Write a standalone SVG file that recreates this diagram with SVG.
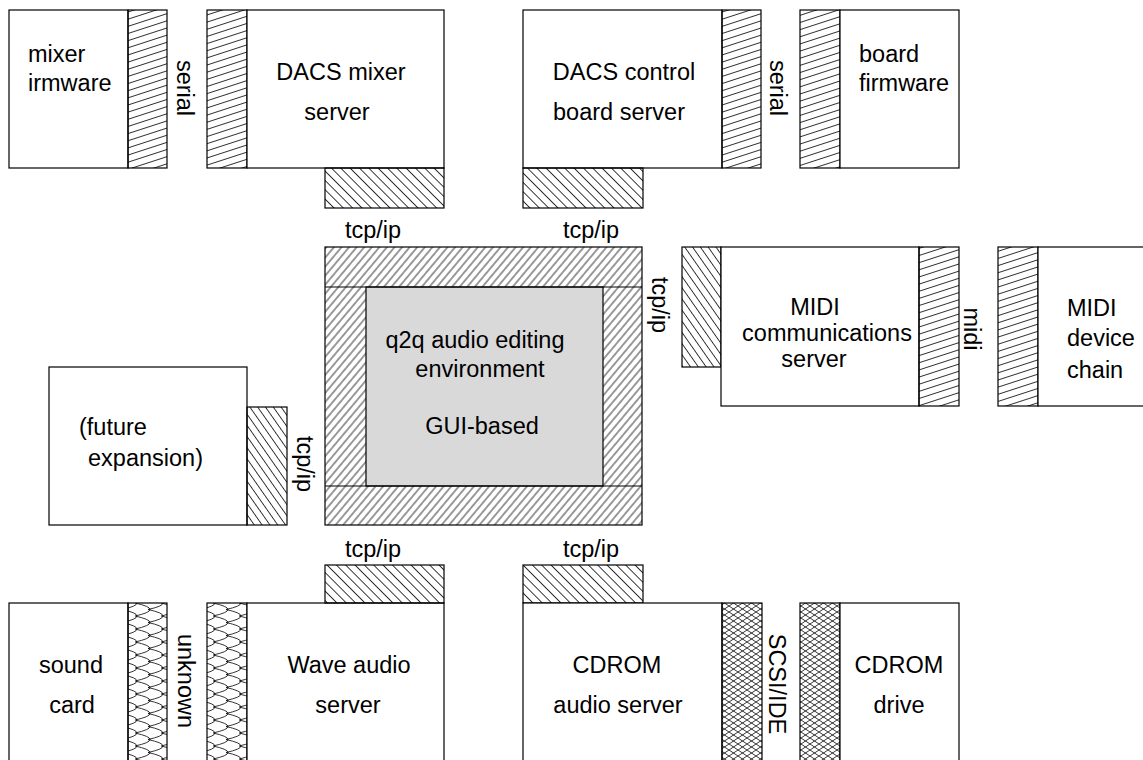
<svg xmlns="http://www.w3.org/2000/svg" width="1143" height="760" viewBox="0 0 1143 760">
<style>
.box{fill:#fff;stroke:#000;stroke-width:1.2}
.hl{stroke:#000;stroke-width:0.8;fill:none}
.t{font-family:"Liberation Sans",Arial,sans-serif;font-size:23.5px;fill:#000}
.m{text-anchor:middle}
</style>
<defs>
<pattern id="serialHatch" patternUnits="userSpaceOnUse" width="12" height="6.8" patternTransform="rotate(-18)"><line class="hl" x1="-1" y1="3.4" x2="13" y2="3.4"/></pattern>
<pattern id="coreHatch" patternUnits="userSpaceOnUse" width="12" height="5.8" patternTransform="rotate(-50)"><line class="hl" x1="-1" y1="2.9" x2="13" y2="2.9"/></pattern>
<pattern id="tcpHatch" patternUnits="userSpaceOnUse" width="12" height="6.6" patternTransform="rotate(45)"><line class="hl" x1="-1" y1="3.3" x2="13" y2="3.3"/></pattern>
<pattern id="tcpHatchV" patternUnits="userSpaceOnUse" width="12" height="6.4" patternTransform="rotate(55)"><line class="hl" x1="-1" y1="3.2" x2="13" y2="3.2"/></pattern>
<pattern id="crossHatch" patternUnits="userSpaceOnUse" width="9" height="6"><path class="hl" d="M0,0 L9,6 M9,0 L0,6"/></pattern>
<pattern id="scaleHatch" patternUnits="userSpaceOnUse" width="26" height="13" x="135" y="603"><path class="hl" d="M0,0 Q30,6.5 0,13 M13,-6.5 Q43,0 13,6.5 M13,6.5 Q43,13 13,19.5 M-13,-6.5 Q17,0 -13,6.5 M-13,6.5 Q17,13 -13,19.5 M-26,0 Q4,6.5 -26,13"/></pattern>
</defs>

<g id="connectors">
<text class="t" transform="translate(177,88) rotate(90)" text-anchor="middle">serial</text>
<text class="t" transform="translate(770,88) rotate(90)" text-anchor="middle">serial</text>
<text class="t m" x="373" y="238">tcp/ip</text>
<text class="t m" x="591" y="238">tcp/ip</text>
<text class="t" transform="translate(652,305) rotate(90)" text-anchor="middle">tcp/ip</text>
<text class="t" transform="translate(964,329) rotate(90)" text-anchor="middle">midi</text>
<text class="t" transform="translate(297,464) rotate(90)" text-anchor="middle">tcp/ip</text>
<text class="t m" x="373" y="557">tcp/ip</text>
<text class="t m" x="591" y="557">tcp/ip</text>
<text class="t" transform="translate(178,681) rotate(90)" text-anchor="middle">unknown</text>
<text class="t" transform="translate(769,684) rotate(90)" text-anchor="middle">SCSI/IDE</text>
</g>

<g id="mixer-firmware">
<rect class="box" x="9" y="10" width="119" height="158"/>
<rect class="box" x="128" y="10" width="39" height="158" style="fill:url(#serialHatch)"/>
<text class="t" x="28" y="62">mixer</text>
<text class="t" x="28" y="91">irmware</text>
</g>

<g id="dacs-mixer-server">
<rect class="box" x="207" y="10" width="40" height="158" style="fill:url(#serialHatch)"/>
<rect class="box" x="247" y="10" width="197" height="158"/>
<rect class="box" x="325" y="168" width="119" height="40" style="fill:url(#tcpHatch)"/>
<text class="t m" x="341" y="80">DACS mixer</text>
<text class="t m" x="337" y="120">server</text>
</g>

<g id="dacs-control-board-server">
<rect class="box" x="523" y="10" width="199" height="158"/>
<rect class="box" x="722" y="10" width="39" height="158" style="fill:url(#serialHatch)"/>
<rect class="box" x="523" y="168" width="120" height="40" style="fill:url(#tcpHatch)"/>
<text class="t m" x="624" y="80">DACS control</text>
<text class="t m" x="619" y="120">board server</text>
</g>

<g id="board-firmware">
<rect class="box" x="800" y="10" width="40" height="158" style="fill:url(#serialHatch)"/>
<rect class="box" x="840" y="10" width="119" height="158"/>
<text class="t" x="859" y="62">board</text>
<text class="t" x="859" y="91">firmware</text>
</g>

<g id="q2q-environment">
<rect class="box" x="325" y="247" width="317" height="278" style="fill:url(#coreHatch)"/>
<rect x="366" y="287" width="237" height="199" fill="#d9d9d9" stroke="#000" stroke-width="1.2"/>
<line x1="325" y1="287" x2="642" y2="287" stroke="#000" stroke-width="1.2"/>
<line x1="325" y1="486" x2="642" y2="486" stroke="#000" stroke-width="1.2"/>
<text class="t m" x="475" y="348">q2q audio editing</text>
<text class="t m" x="480" y="377">environment</text>
<text class="t m" x="482" y="434">GUI-based</text>
</g>

<g id="midi-communications-server">
<rect class="box" x="682" y="247" width="39" height="120" style="fill:url(#tcpHatchV)"/>
<rect class="box" x="721" y="247" width="198" height="159"/>
<rect class="box" x="919" y="247" width="40" height="159" style="fill:url(#serialHatch)"/>
<text class="t m" x="815" y="315">MIDI</text>
<text class="t m" x="827" y="341">communications</text>
<text class="t m" x="814" y="367">server</text>
</g>

<g id="midi-device-chain">
<rect class="box" x="998" y="247" width="40" height="159" style="fill:url(#serialHatch)"/>
<rect class="box" x="1038" y="247" width="120" height="159"/>
<text class="t" x="1067" y="316">MIDI</text>
<text class="t" x="1067" y="346">device</text>
<text class="t" x="1067" y="378">chain</text>
</g>

<g id="future-expansion">
<rect class="box" x="49" y="367" width="198" height="158"/>
<rect class="box" x="247" y="407" width="40" height="118" style="fill:url(#tcpHatchV)"/>
<text class="t" x="79" y="435">(future</text>
<text class="t" x="88" y="466">expansion)</text>
</g>

<g id="sound-card">
<rect class="box" x="9" y="603" width="119" height="170"/>
<rect class="box" x="128" y="603" width="39" height="170" style="fill:url(#scaleHatch)"/>
<text class="t m" x="71" y="673">sound</text>
<text class="t m" x="72" y="713">card</text>
</g>

<g id="wave-audio-server">
<rect class="box" x="207" y="603" width="40" height="170" style="fill:url(#scaleHatch)"/>
<rect class="box" x="247" y="603" width="197" height="170"/>
<rect class="box" x="325" y="565" width="119" height="38" style="fill:url(#tcpHatch)"/>
<text class="t m" x="349" y="673">Wave audio</text>
<text class="t m" x="348" y="713">server</text>
</g>

<g id="cdrom-audio-server">
<rect class="box" x="523" y="565" width="120" height="38" style="fill:url(#tcpHatch)"/>
<rect class="box" x="523" y="603" width="199" height="170"/>
<rect class="box" x="722" y="603" width="40" height="170" style="fill:url(#crossHatch)"/>
<text class="t m" x="617" y="673">CDROM</text>
<text class="t m" x="618" y="713">audio server</text>
</g>

<g id="cdrom-drive">
<rect class="box" x="800" y="603" width="40" height="170" style="fill:url(#crossHatch)"/>
<rect class="box" x="840" y="603" width="119" height="170"/>
<text class="t m" x="899" y="673">CDROM</text>
<text class="t m" x="899" y="713">drive</text>
</g>
</svg>
